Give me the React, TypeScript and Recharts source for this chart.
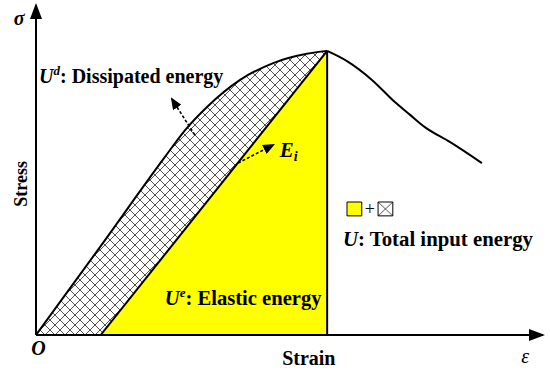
import React from 'react';
import { ComposedChart, Area, Line, XAxis, YAxis, ReferenceLine, ReferenceDot, ReferenceArea } from 'recharts';

// ascending branch of stress–strain curve (pre-peak)
const strainUp = [0, 12.6, 25.3, 29.3, 33.6, 40.1, 46.6, 53.2, 57.2];
const stressUp = [0, 26.7, 53.9, 62.1, 69.1, 77.3, 82.4, 85.2, 86.1];
// descending branch (post-peak)
const strainDown = [57.2, 61.1, 66.0, 70.5, 73.5, 76.4, 81.3, 87.6];
const stressDown = [86.1, 83.0, 77.3, 70.6, 66.7, 63.0, 58.5, 52.1];
// elastic unloading line (triangle hypotenuse)
const elasticStrain = [12.7, 57.2];
const elasticStress = [0, 86.1];

const upData = strainUp.map((s, i) => ({ strain: s, stress: stressUp[i] }));
const downData = strainDown.map((s, i) => ({ strain: s, stress: stressDown[i] }));
const elasticData = elasticStrain.map((s, i) => ({ strain: s, stress: elasticStress[i] }));

const FONT = "'Liberation Serif', 'Times New Roman', serif";

const txt = (content: React.ReactNode, extra: any = {}) => (p: any) => (
  <text x={p.cx} y={p.cy} fontFamily={FONT} fontWeight="bold" fontSize={20} fill="#000" {...extra}>
    {content}
  </text>
);

const arrowShape = (marker: string, dash?: string, width = 2) => (p: any) => (
  <line x1={p.x1} y1={p.y1} x2={p.x2} y2={p.y2} stroke="#000" strokeWidth={width}
    strokeDasharray={dash} markerEnd={`url(#${marker})`} />
);

export default function App() {
  return (
    <div style={{ position: 'absolute', left: 0, top: 0, width: 550, height: 372, background: '#fff' }}>
      <ComposedChart width={550} height={372} margin={{ top: 5, right: 5, bottom: 37, left: 36 }}>
        <defs>
          <pattern id="hatch" patternUnits="userSpaceOnUse" width="10" height="10">
            <rect width="10" height="10" fill="#fff" />
            <path d="M0,0 L10,10 M10,0 L0,10" stroke="#333" strokeWidth="0.85" strokeLinecap="square" />
          </pattern>
          <pattern id="hatchBox" patternUnits="objectBoundingBox" patternContentUnits="objectBoundingBox" width="1" height="1">
            <rect width="1" height="1" fill="#fff" />
            <path d="M0,0 L1,1 M1,0 L0,1" stroke="#333" strokeWidth="0.06" />
          </pattern>
          <marker id="axisArrow" markerUnits="userSpaceOnUse" markerWidth="16" markerHeight="12" refX="14" refY="6" orient="auto">
            <path d="M0,0 L16,6 L0,12 z" fill="#000" />
          </marker>
          <marker id="smallArrow" markerUnits="userSpaceOnUse" markerWidth="12" markerHeight="10" refX="10" refY="5" orient="auto">
            <path d="M0,0 L12,5 L0,10 z" fill="#000" />
          </marker>
        </defs>
        <XAxis type="number" dataKey="strain" domain={[0, 100]} hide allowDataOverflow />
        <YAxis type="number" dataKey="stress" domain={[0, 100]} hide allowDataOverflow />

        <Area data={upData} dataKey="stress" type="monotone" fill="url(#hatch)" fillOpacity={1} stroke="none" isAnimationActive={false} />
        <Area data={elasticData} dataKey="stress" type="linear" fill="#ffff00" fillOpacity={1} stroke="#000" strokeWidth={2} isAnimationActive={false} />
        <ReferenceLine segment={[{ x: 57.2, y: 0 }, { x: 57.2, y: 86.1 }]} stroke="#000" strokeWidth={2} ifOverflow="visible" />
        <Line data={upData} dataKey="stress" type="monotone" stroke="#000" strokeWidth={2} dot={false} isAnimationActive={false} />
        <Line data={downData} dataKey="stress" type="monotone" stroke="#000" strokeWidth={2} dot={false} isAnimationActive={false} />

        {/* axes */}
        <ReferenceLine segment={[{ x: 0, y: 0 }, { x: 0, y: 100 }]} ifOverflow="visible" shape={arrowShape('axisArrow', undefined, 2)} />
        <ReferenceLine segment={[{ x: 0, y: 0 }, { x: 99.6, y: 0 }]} ifOverflow="visible" shape={arrowShape('axisArrow', undefined, 2)} />

        {/* dashed pointers */}
        <ReferenceLine segment={[{ x: 31.2, y: 60.6 }, { x: 26.7, y: 71.5 }]} ifOverflow="visible" shape={arrowShape('smallArrow', '3 2', 1.6)} />
        <ReferenceLine segment={[{ x: 39.7, y: 52.1 }, { x: 46.6, y: 57.6 }]} ifOverflow="visible" shape={arrowShape('smallArrow', '3 2', 1.6)} />

        {/* legend boxes */}
        <ReferenceArea x1={61.1} x2={64.0} y1={36.1} y2={40.3} fill="#ffff00" fillOpacity={1} stroke="#000" strokeWidth={1} ifOverflow="visible" />
        <ReferenceArea x1={67.2} x2={70.1} y1={36.1} y2={40.3} fill="url(#hatchBox)" fillOpacity={1} stroke="#000" strokeWidth={1} ifOverflow="visible" />

        {/* texts */}
        <ReferenceDot x={-3.3} y={93.9} r={0} ifOverflow="visible" shape={txt('σ', { fontStyle: 'italic', textAnchor: 'middle' })} />
        <ReferenceDot x={-1.8} y={45.8} r={0} ifOverflow="visible" shape={(p: any) => (
          <text x={p.cx} y={p.cy} transform={`rotate(-90 ${p.cx} ${p.cy})`} textAnchor="middle" fontFamily={FONT} fontWeight="bold" fontSize={18} fill="#000">Stress</text>
        )} />
        <ReferenceDot x={0.5} y={-6.1} r={0} ifOverflow="visible" shape={txt('O', { fontStyle: 'italic', textAnchor: 'middle' })} />
        <ReferenceDot x={53.6} y={-9.1} r={0} ifOverflow="visible" shape={txt('Strain', { textAnchor: 'middle' })} />
        <ReferenceDot x={96.1} y={-8.5} r={0} ifOverflow="visible" shape={txt('ε', { fontStyle: 'italic', fontWeight: 'normal', textAnchor: 'middle' })} />
        <ReferenceDot x={0.6} y={76.4} r={0} ifOverflow="visible" shape={txt(
          <>
            <tspan fontStyle="italic">U</tspan>
            <tspan fontStyle="italic" fontSize={13} dy={-8}>d</tspan>
            <tspan dy={8}>: Dissipated energy</tspan>
          </>
        )} />
        <ReferenceDot x={25.3} y={9.1} r={0} ifOverflow="visible" shape={txt(
          <>
            <tspan fontStyle="italic">U</tspan>
            <tspan fontStyle="italic" fontSize={13} dy={-8}>e</tspan>
            <tspan dy={8}>: Elastic energy</tspan>
          </>
        , { fontSize: 20.6 })} />
        <ReferenceDot x={60.3} y={27.0} r={0} ifOverflow="visible" shape={txt(
          <>
            <tspan fontStyle="italic">U</tspan>
            <tspan>: Total input energy</tspan>
          </>
        , { fontSize: 20.8 })} />
        <ReferenceDot x={47.9} y={53.9} r={0} ifOverflow="visible" shape={txt(
          <>
            <tspan fontStyle="italic">E</tspan>
            <tspan fontStyle="italic" fontSize={14} dy={4}>i</tspan>
          </>
        , { fontSize: 21 })} />
        <ReferenceDot x={65.6} y={36.4} r={0} ifOverflow="visible" shape={txt('+', { fontWeight: 'normal', fontSize: 18, textAnchor: 'middle' })} />
      </ComposedChart>
    </div>
  );
}
